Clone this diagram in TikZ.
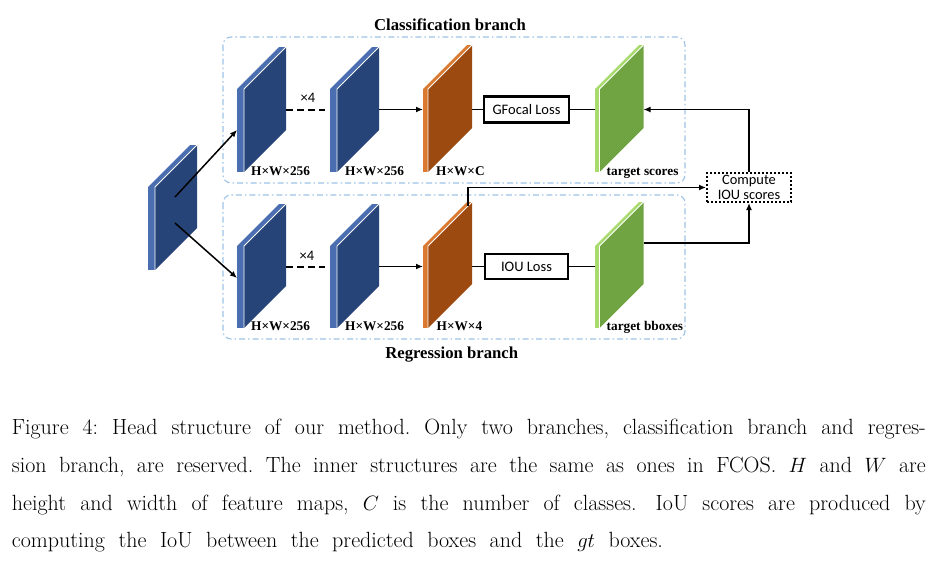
\documentclass[tikz,border=0pt]{standalone}
\usepackage{fontspec}
\usetikzlibrary{arrows.meta}
\newfontfamily\tnr{Liberation Serif}
\newfontfamily\calfont{Carlito}
\definecolor{bluedark}{HTML}{264478}
\definecolor{bluelight}{HTML}{4A6EB0}
\definecolor{orangedark}{HTML}{9C4A10}
\definecolor{orangelight}{HTML}{D97A30}
\definecolor{greendark}{HTML}{70A443}
\definecolor{greenlight}{HTML}{A8DA6E}
\definecolor{branchblue}{HTML}{9DC3E6}
\newcommand\slabbox[8]{%
  \fill[#8] (#2,#3) rectangle (#2+#4,#3+#6);
  \fill[#8] (#2,#3) -- (#2+#4,#3) -- (#2+#4+#5,#3-#5) -- (#2+#5,#3-#5) -- cycle;
  \fill[#7] (#2+#4,#3) -- (#2+#4+#5,#3-#5) -- (#2+#4+#5,#3-#5+#6) -- (#2+#4,#3+#6) -- cycle;
  \draw[white, line width=0.8pt] (#2+#4,#3+#6) -- (#2+#4,#3) -- (#2+#4+#5,#3-#5);
  \coordinate (#1-l) at (#2,#3+20.5);
  \coordinate (#1-r) at (#2+#4+#5,#3+20.5);
}
\tikzset{
  conn/.style={line width=1.5pt, black},
  arr/.style={conn, -{Latex[length=7pt,width=6pt]}},
  dashconn/.style={line width=2pt, dash pattern=on 7pt off 4pt},
  lossbox/.style={draw, line width=2.1pt, inner sep=0pt, font=\calfont\fontsize{14.5}{16}\selectfont},
  dimlabel/.style={anchor=base west, inner sep=0pt, font=\tnr\bfseries\fontsize{13.3}{15}\selectfont},
  title/.style={anchor=base, inner sep=0pt, font=\tnr\bfseries\fontsize{16.7}{19}\selectfont},
  times/.style={anchor=base, inner sep=0pt, font=\calfont\fontsize{14.5}{16}\selectfont},
  branch/.style={draw=branchblue, line width=1.1pt, rounded corners=8pt, dash pattern=on 6pt off 3pt on 1.5pt off 3pt},
  capline/.style={anchor=base west, inner sep=0pt, font=\fontsize{22}{37.8}\selectfont\frenchspacing}
}
\begin{document}
\begin{tikzpicture}[x=1pt,y=-1pt]
\useasboundingbox (0,0) rectangle (939,560);
% branch frames
\draw[branch] (223,37) rectangle (685,183);
\draw[branch] (223,195) rectangle (685,339);
\node[title] (tcls) at (450,30.7) {Classification branch};
\node[title] (treg) at (451.7,358.5) {Regression branch};
% slabs
\slabbox{in}{148}{187}{7}{42}{83}{bluedark}{bluelight}
\slabbox{u1}{237}{89}{7}{42}{83}{bluedark}{bluelight}
\slabbox{u2}{330}{89}{7}{42}{83}{bluedark}{bluelight}
\slabbox{u3}{423}{89}{5}{44}{83}{orangedark}{orangelight}
\slabbox{u4}{595}{89}{4.5}{44}{83}{greendark}{greenlight}
\slabbox{d1}{237}{246}{7}{42}{82}{bluedark}{bluelight}
\slabbox{d2}{330}{246}{7}{42}{82}{bluedark}{bluelight}
\slabbox{d3}{423}{246}{5}{44}{82}{orangedark}{orangelight}
\slabbox{d4}{595}{246}{4.5}{44}{82}{greendark}{greenlight}
% extra anchor points
\coordinate (in-a) at (175,197);
\coordinate (in-b) at (175,223);
\coordinate (u1-in) at (237,130);
\coordinate (d1-in) at (237,278);
\coordinate (d3-top) at (468,206);
\coordinate (d4-out) at (643.5,243);
% labels
\node[dimlabel] (lu1) at (251,175.5) {H×W×256};
\node[dimlabel] (lu2) at (345,175.5) {H×W×256};
\node[dimlabel] (lu3) at (436,175.5) {H×W×C};
\node[dimlabel] (lu4) at (606.5,175.5) {target scores};
\node[dimlabel] (ld1) at (251,330.5) {H×W×256};
\node[dimlabel] (ld2) at (345,330.5) {H×W×256};
\node[dimlabel] (ld3) at (436.5,330.5) {H×W×4};
\node[dimlabel] (ld4) at (606.5,330.5) {target bboxes};
\node[times] (x4u) at (308,102.7) {×4};
\node[times] (x4d) at (307,260) {×4};
% loss boxes
\node[lossbox, minimum width=85pt, minimum height=26pt] (gfl) at (526.5,109.5) {GFocal Loss};
\node[lossbox, minimum width=83pt, minimum height=25pt] (iou) at (526.5,266.5) {IOU Loss};
\node[draw, line width=2pt, dash pattern=on 2pt off 2pt, minimum width=84pt, minimum height=29pt, inner sep=0pt, align=center, font=\calfont\fontsize{14.4}{15.7}\selectfont] (comp) at (749,187.5) {Compute\\IOU scores};
% connectors
\draw[arr] (in-a) -- (u1-in);
\draw[arr] (in-b) -- (d1-in);
\draw[dashconn] (u1-r) -- ([xshift=-5pt]u2-l);
\draw[dashconn] (d1-r) -- ([xshift=-5pt]d2-l);
\draw[arr] (u2-r) -- (u3-l);
\draw[arr] (d2-r) -- (d3-l);
\draw[conn] (u3-r) -- (gfl.west);
\draw[conn] (gfl.east) -- (u4-l);
\draw[conn] (d3-r) -- (iou.west);
\draw[conn] (iou.east) -- (d4-l);
\draw[arr] (d3-top) |- (comp.west);
\draw[arr] (d4-out) -| (comp.south);
\draw[arr] (comp.north) |- (u4-r);
% caption
\node[capline] (c1) at (11.7,434.3) {\makebox[914pt][s]{Figure 4: Head structure of our method. Only two branches, classification branch and regres-}};
\node[capline] (c2) at (11.7,472) {\makebox[914pt][s]{sion branch, are reserved. The inner structures are the same as ones in FCOS. $H$ and $W$ are}};
\node[capline] (c3) at (11.7,510) {\makebox[914pt][s]{height and width of feature maps, $C$ is the number of classes.\hspace{5pt} IoU scores are produced by}};
\node[capline] (c4) at (11.7,547.7) {\makebox[651pt][s]{computing the IoU between the predicted boxes and the $gt$ boxes.}};
\end{tikzpicture}
\end{document}
